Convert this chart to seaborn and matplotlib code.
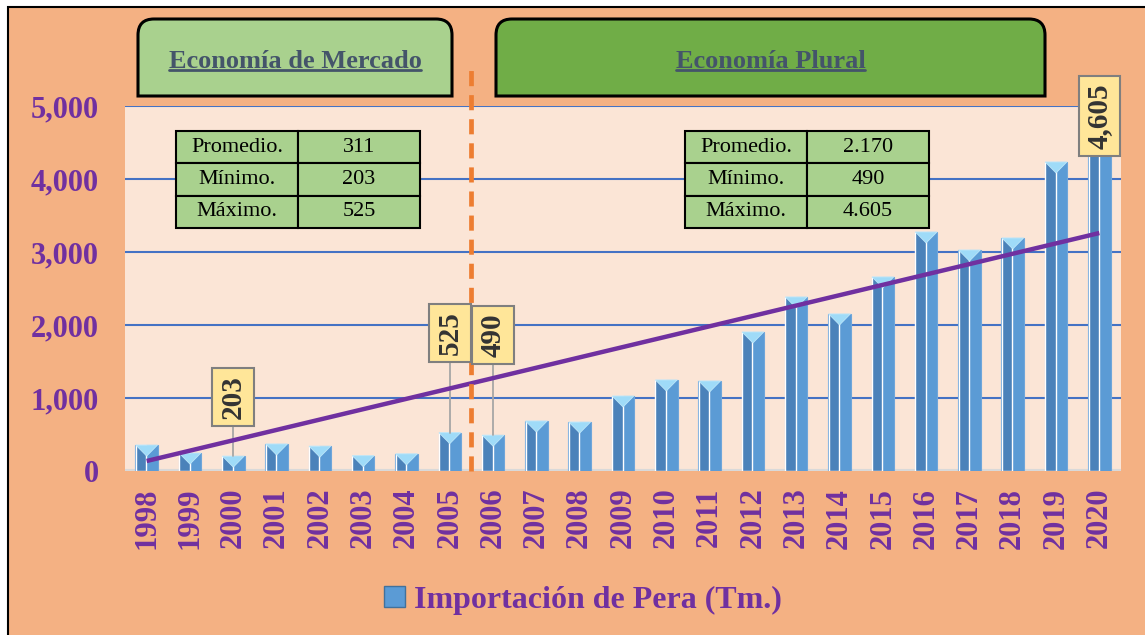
import matplotlib
matplotlib.use("Agg")
import matplotlib.pyplot as plt
import seaborn as sns
import numpy as np
from matplotlib.patches import Rectangle, PathPatch, Polygon, Patch
from matplotlib.path import Path
from matplotlib.lines import Line2D

# ---- data ----
years = [str(y) for y in range(1998, 2021)]
imports = [355, 245, 203, 370, 340, 210, 235, 525, 490, 685, 670, 1027, 1247,
           1233, 1904, 2384, 2151, 2658, 3274, 3027, 3192, 4233, 4605]
trend_ends = [137, 3260]          # linear trend, value at 1998 and 2020
labelled_years = ["2000", "2005", "2006", "2020"]
label_texts = ["203", "525", "490", "4,605"]
period_names = ["Economía de Mercado", "Economía Plural"]
stat_names = ["Promedio.", "Mínimo.", "Máximo."]
mercado_stats = ["311", "203", "525"]
plural_stats = ["2.170", "490", "4.605"]
series_name = "Importación de Pera (Tm.)"

W, H = 1145, 635
PURPLE = "#7030A0"

sns.set_theme(style="white")
plt.rcParams["font.family"] = ["Liberation Serif", "DejaVu Serif"]

fig = plt.figure(figsize=(W / 100, H / 100), dpi=100)
fig.patch.set_facecolor("white")

# orange chart area with black frame
fig.add_artist(Rectangle((8 / W, -0.1), 1.2, 1.1 - 7 / H, transform=fig.transFigure,
                         facecolor="#F4B183", edgecolor="black", lw=1.5, zorder=0))

ax = fig.add_axes([125 / W, 164 / H, 996 / W, 365 / H])
ax.set_facecolor("#FBE5D6")
ax.set_axisbelow(True)

x = np.arange(len(years))
sns.barplot(x=years, y=imports, color="#5B9BD5", saturation=1, width=0.52,
            edgecolor="#6FA6DA", linewidth=0.8, ax=ax, zorder=2)
# bevel shading: darker left half + light top triangle
ax.bar(x - 0.25, imports, width=0.24, align="edge", color="#4B82BA", zorder=2.1)
tri_h = 150
for xi, v in zip(x, imports):
    ax.add_patch(Polygon([(xi - 0.25, v), (xi + 0.25, v), (xi, v - tri_h)],
                         closed=True, facecolor="#9FDBF8", edgecolor="#BDE7FA",
                         lw=0.6, zorder=2.2))

ax.set_ylim(0, 5000)
ax.set_xlim(-0.5, len(years) - 0.5)
ax.set_yticks(range(0, 5001, 1000))
ax.yaxis.set_major_formatter(matplotlib.ticker.StrMethodFormatter("{x:,.0f}"))
ax.yaxis.grid(True, color="#4472C4", lw=1.5)
ax.xaxis.grid(False)
ax.axhline(0, color="#D9D9D9", lw=3, zorder=1.5)
for s in ax.spines.values():
    s.set_visible(False)
ax.set_xlabel("")
ax.set_ylabel("")
ax.tick_params(axis="y", length=0, pad=19, labelsize=22, labelcolor=PURPLE)
ax.tick_params(axis="x", length=0, pad=12, labelsize=22, labelcolor=PURPLE, rotation=90)
for lab in ax.get_xticklabels() + ax.get_yticklabels():
    lab.set_fontweight("bold")

# trend line
ax.plot([x[0], x[-1]], trend_ends, color=PURPLE, lw=3.2, zorder=3, solid_capstyle="butt")

# period divider
ax.plot([7.5, 7.5], [0, 5560], color="#ED7D31", lw=3.4, dashes=(3.2, 1.9),
        clip_on=False, zorder=3.5)

# data labels
offsets = {"2000": 810, "2005": 1365, "2006": 1370, "2020": 255}
for yr, txt in zip(labelled_years, label_texts):
    i = years.index(yr)
    v = imports[i]
    ty = v + offsets[yr]
    ax.plot([i, i], [v, ty], color="#A6A6A6", lw=1.3, zorder=2.5)
    ax.text(i, ty, txt, rotation=90, ha="center", va="center", fontsize=21,
            fontweight="bold", color="#333333", zorder=4, clip_on=False,
            bbox=dict(boxstyle="square,pad=0.25", fc="#FFE699", ec="#7F7F7F", lw=1.5))

# stats tables
for stats, left in [(mercado_stats, (176 - 125) / 996), (plural_stats, (685 - 125) / 996)]:
    tb = ax.table(cellText=[[n, s] for n, s in zip(stat_names, stats)],
                  cellLoc="center", bbox=[left, (471 - 228) / 365, 244 / 996, 97 / 365],
                  colWidths=[0.5, 0.5])
    tb.auto_set_font_size(False)
    tb.set_zorder(5)
    for cell in tb.get_celld().values():
        cell.set_facecolor("#A9D18E")
        cell.set_edgecolor("black")
        cell.set_linewidth(1.5)
        cell.get_text().set_fontsize(16)
        cell.get_text().set_color("black")


# header boxes with rounded top corners
def top_rounded(x0, x1, ytop, ybot, r=16):
    fx0, fx1 = x0 / W, x1 / W
    fy0, fy1 = 1 - ybot / H, 1 - ytop / H
    rx, ry = r / W, r / H
    verts = [(fx0, fy0), (fx1, fy0), (fx1, fy1 - ry), (fx1, fy1), (fx1 - rx, fy1),
             (fx0 + rx, fy1), (fx0, fy1), (fx0, fy1 - ry), (fx0, fy0)]
    codes = [Path.MOVETO, Path.LINETO, Path.LINETO, Path.CURVE3, Path.CURVE3,
             Path.LINETO, Path.CURVE3, Path.CURVE3, Path.CLOSEPOLY]
    return Path(verts, codes)


headers = []
for name, (x0, x1), fc in zip(period_names, [(138, 452), (496, 1045)], ["#A9D18E", "#70AD47"]):
    fig.add_artist(PathPatch(top_rounded(x0, x1, 19, 96), transform=fig.transFigure,
                             facecolor=fc, edgecolor="black", lw=2.2, zorder=6))
    t = fig.text((x0 + x1) / 2 / W, 1 - 61 / H, name, ha="center", va="center",
                 fontsize=19, fontweight="bold", color="#44546A", zorder=7)
    headers.append(t)

# legend
fig.legend(handles=[Patch(facecolor="#5B9BD5", edgecolor="#41719C")], labels=[series_name],
           loc="center", bbox_to_anchor=(583 / W, 1 - 600 / H), frameon=False,
           prop=dict(weight="bold", size=23), labelcolor=PURPLE,
           handlelength=0.65, handleheight=0.65, handletextpad=0.3)

# underline header texts
fig.canvas.draw()
inv = fig.transFigure.inverted()
for t in headers:
    bb = t.get_window_extent()
    (ax0, ay0), (ax1, _) = inv.transform([(bb.x0, bb.y0 + 3), (bb.x1, bb.y0 + 3)])
    fig.add_artist(Line2D([ax0, ax1], [ay0, ay0], transform=fig.transFigure,
                          color="#44546A", lw=2, zorder=7))

fig.savefig("out.png", dpi=100)
